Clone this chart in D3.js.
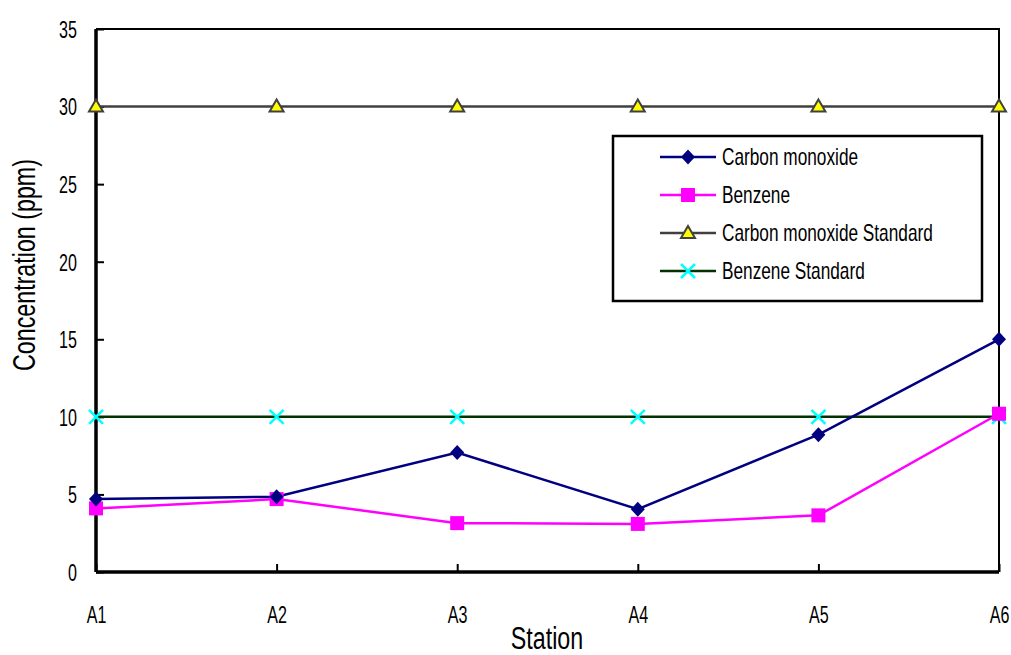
<!DOCTYPE html>
<html>
<head>
<meta charset="utf-8">
<script src="https://cdn.jsdelivr.net/npm/d3@7"></script>
<style>
  body { margin: 0; background: #fff; }
  text { font-family: "Liberation Sans", Arial, sans-serif; fill: #000; }
</style>
</head>
<body>
<div id="chart"></div>
<script>
// data
const stations = ["A1", "A2", "A3", "A4", "A5", "A6"];
const carbonMonoxide = [4.7, 4.85, 7.7, 4.05, 8.85, 15.0];
const benzene = [4.1, 4.7, 3.15, 3.1, 3.65, 10.2];
const coStandard = [30, 30, 30, 30, 30, 30];
const benzeneStandard = [10, 10, 10, 10, 10, 10];
const yTicks = [0, 5, 10, 15, 20, 25, 30, 35];

const seriesList = [
  {name: "Carbon monoxide", values: carbonMonoxide, color: "#000080", marker: "diamond"},
  {name: "Benzene", values: benzene, color: "#ff00ff", marker: "square"},
  {name: "Carbon monoxide Standard", values: coStandard, color: "#404040", marker: "triangle"},
  {name: "Benzene Standard", values: benzeneStandard, color: "#003300", marker: "cross"}
];

const W = 1011, H = 655;
const margin = {top: 29, right: 12, bottom: 83, left: 96};
const width = W - margin.left - margin.right,
      height = H - margin.top - margin.bottom;
const NARROW = 0.75; // squeeze text to look like a narrow font

const svg = d3.select("#chart").append("svg")
    .attr("width", W).attr("height", H);
const g = svg.append("g").attr("transform", `translate(${margin.left},${margin.top})`);

const x = d3.scalePoint().domain(stations).range([0, width]);
const y = d3.scaleLinear().domain([0, 35]).range([height, 0]);

// frame (top + right)
g.append("path")
  .attr("d", `M0,0H${width}V${height}`)
  .attr("fill", "none").attr("stroke", "#000").attr("stroke-width", 2);

// y axis
const yAxis = g.append("g")
  .call(d3.axisRight(y).tickValues(yTicks).tickSize(8).tickFormat(d => d));
yAxis.select(".domain").remove();
yAxis.selectAll("line").attr("stroke", "#000").attr("stroke-width", 2);
yAxis.selectAll("text")
  .attr("x", null)
  .attr("transform", "translate(-19,0) scale(0.7,1)")
  .attr("text-anchor", "end").attr("dy", "0.36em")
  .style("font-size", "23px");

// x axis
const xAxis = g.append("g").attr("transform", `translate(0,${height})`)
  .call(d3.axisTop(x).tickSize(8));
xAxis.select(".domain").remove();
xAxis.selectAll("line").attr("stroke", "#000").attr("stroke-width", 2);
xAxis.selectAll("text")
  .attr("y", null)
  .attr("transform", "translate(0,43) scale(0.7,1)")
  .attr("dy", "0.36em").attr("text-anchor", "middle")
  .style("font-size", "23px");

// axis lines (thick)
g.append("line").attr("x1", 0).attr("x2", 0).attr("y1", 0).attr("y2", height)
  .attr("stroke", "#000").attr("stroke-width", 3.5);
g.append("line").attr("x1", 0).attr("x2", width).attr("y1", height).attr("y2", height)
  .attr("stroke", "#000").attr("stroke-width", 3.5);

// axis titles
svg.append("text")
  .attr("transform", `translate(35,265) rotate(-90) scale(${NARROW},1)`)
  .attr("text-anchor", "middle")
  .style("font-size", "31px")
  .text("Concentration (ppm)");
svg.append("text")
  .attr("transform", `translate(547,649) scale(${NARROW},1)`)
  .attr("text-anchor", "middle")
  .style("font-size", "31px")
  .text("Station");

function drawMarker(sel, type, color) {
  if (type === "diamond") {
    sel.append("path").attr("d", "M0,-7.5L7,0L0,7.5L-7,0Z")
      .attr("fill", color);
  } else if (type === "square") {
    sel.append("rect").attr("x", -7).attr("y", -7).attr("width", 14).attr("height", 14)
      .attr("fill", color);
  } else if (type === "triangle") {
    sel.append("path").attr("d", "M0,-7L7,5H-7Z")
      .attr("fill", "#ffff00").attr("stroke", color).attr("stroke-width", 2);
  } else {
    sel.append("path").attr("d", "M-7,-7L7,7M-7,7L7,-7")
      .attr("stroke", "#00ffff").attr("stroke-width", 2.5);
  }
}

const line = d3.line().x((d, i) => x(stations[i])).y(d => y(d));

// draw standards first, then measured series on top
const drawOrder = [seriesList[3], seriesList[2], seriesList[1], seriesList[0]];
drawOrder.forEach(s => {
  g.append("path").datum(s.values)
    .attr("d", line)
    .attr("fill", "none")
    .attr("stroke", s.color)
    .attr("stroke-width", 2.5);
});
drawOrder.forEach(s => {
  s.values.forEach((v, i) => {
    const m = g.append("g").attr("transform", `translate(${x(stations[i])},${y(v)})`);
    drawMarker(m, s.marker, s.color);
  });
});

// legend
const legend = svg.append("g").attr("transform", "translate(613,136)");
legend.append("rect").attr("width", 369).attr("height", 165)
  .attr("fill", "#fff").attr("stroke", "#000").attr("stroke-width", 2.5);
seriesList.forEach((s, i) => {
  const row = legend.append("g").attr("transform", `translate(0,${21 + i * 38})`);
  row.append("line").attr("x1", 47).attr("x2", 103)
    .attr("stroke", s.color).attr("stroke-width", 2.5);
  const m = row.append("g").attr("transform", "translate(75,0)");
  drawMarker(m, s.marker, s.color);
  row.append("text")
    .attr("transform", `translate(109,0) scale(${NARROW},1)`)
    .attr("dy", "0.36em")
    .style("font-size", "23px").text(s.name);
});
</script>
</body>
</html>
